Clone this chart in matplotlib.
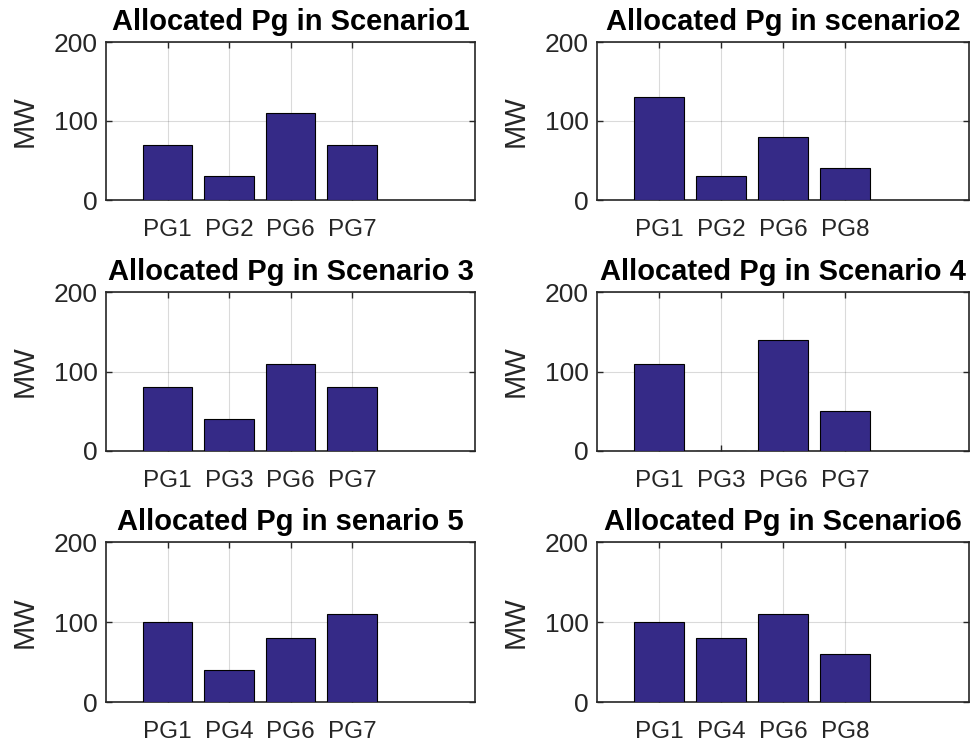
"""
Allocated generation per scenario, 3x2 bar grid
"""
import matplotlib.pyplot as plt
import numpy as np

plt.rcParams["font.family"] = ["Liberation Sans", "DejaVu Sans"]

titles = [
    "Allocated Pg in Scenario1",
    "Allocated Pg in scenario2",
    "Allocated Pg in Scenario 3",
    "Allocated Pg in Scenario 4",
    "Allocated Pg in senario 5",
    "Allocated Pg in Scenario6",
]
gen_labels = [
    ["PG1", "PG2", "PG6", "PG7"],
    ["PG1", "PG2", "PG6", "PG8"],
    ["PG1", "PG3", "PG6", "PG7"],
    ["PG1", "PG3", "PG6", "PG7"],
    ["PG1", "PG4", "PG6", "PG7"],
    ["PG1", "PG4", "PG6", "PG8"],
]
pg_mw = [
    [70, 30, 110, 70],
    [130, 30, 80, 40],
    [80, 40, 110, 80],
    [110, 0, 140, 50],
    [100, 40, 80, 110],
    [100, 80, 110, 60],
]

W, H = 971, 747
fig = plt.figure(figsize=(W / 100, H / 100), dpi=100, facecolor="white")

txt = "#262626"
bar_col = "#352A87"
# pixel boxes (left, top, right, bottom)
lefts = [106, 597]
rights = [475, 969]
tops = [42, 292, 542]
bottoms = [200, 451, 702]

for k in range(6):
    r, c = divmod(k, 2)
    l, rt, t, b = lefts[c], rights[c], tops[r], bottoms[r]
    ax = fig.add_axes([l / W, 1 - b / H, (rt - l) / W, (b - t) / H])
    x = np.arange(1, len(pg_mw[k]) + 1)
    ax.bar(x, pg_mw[k], width=0.8, color=bar_col, edgecolor="black", linewidth=0.8, zorder=3)
    ax.set_xlim(0, 6)
    ax.set_ylim(0, 200)
    ax.set_xticks(x)
    ax.set_xticklabels(gen_labels[k])
    ax.set_yticks([0, 100, 200])
    ax.grid(True, color="#262626", alpha=0.17, linewidth=0.8, zorder=0)
    ax.tick_params(direction="in", top=True, right=True, length=4, width=1.0,
                   colors=txt, labelsize=19, pad=6)
    ax.tick_params(axis="x", labelsize=17.5, pad=14)
    for s in ax.spines.values():
        s.set_color(txt)
        s.set_linewidth(1.2)
    ax.set_ylabel("MW", fontsize=21, color=txt, labelpad=11)
    ax.set_title(titles[k], fontsize=21, fontweight="bold", color="black", pad=9)

plt.savefig("out.png", dpi=100)
